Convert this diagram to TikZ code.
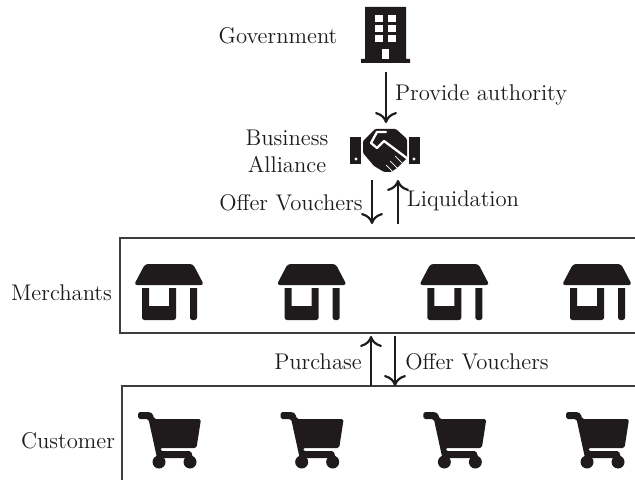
\documentclass[tikz,border=0pt]{standalone}
\usetikzlibrary{arrows.meta}
\definecolor{ink}{HTML}{1F1B1C}
\tikzset{
  x=0.5pt,y=-0.5pt,
  lab/.style={inner sep=0pt,font=\fontsize{11.35}{13.5}\selectfont,text=ink},
  flow/.style={draw=ink,line width=1.1pt,-{To[length=5.5pt,width=11pt,line width=1.1pt]}},
  panel/.style={draw=ink!85,line width=0.6pt},
  solid ink/.style={fill=ink,draw=none},
  knock/.style={fill=white,draw=none},
  shopicon/.pic={
    \fill[solid ink,rounded corners=1.5pt] (11,0) -- (59,0) -- (70,21) -- (0,21) -- cycle;
    \fill[solid ink] (8,24) -- (15,24) -- (15,42) -- (35,42) -- (35,24) -- (42,24) [rounded corners=1.2pt] -- (42,56) -- (8,56) [sharp corners] -- cycle;
    \fill[solid ink] (56,24) -- (63,24) [rounded corners=1.2pt] -- (63,56) -- (56,56) [sharp corners] -- cycle;
  },
  carticon/.pic={
    \fill[solid ink,rounded corners=0.9pt] (0,0) -- (12,0) -- (15,2) -- (16,7) -- (63,7) -- (58.5,36) -- (22,36) -- (22.5,39) -- (53,39) -- (55,46) -- (19,46) -- (10.5,7) -- (0,7) -- cycle;
    \fill[solid ink] (21,50) circle[radius=6.5];
    \fill[solid ink] (52,50) circle[radius=6.5];
  },
}
\begin{document}
\begin{tikzpicture}
\useasboundingbox (0,0) rectangle (635,480);
% Government
\fill[solid ink] (365,7) -- (406,7) -- (406,59) -- (410,59) -- (410,63) -- (361,63) -- (361,59) -- (365,59) -- cycle;
\foreach \wy in {15,25,35}{
  \fill[knock] (375,\wy) rectangle +(8,7);
  \fill[knock] (388,\wy) rectangle +(8,7);
}
\fill[knock] (382,49) rectangle (389,59);
\node[lab] (gov) at (278,36) {Government};
% Handshake
\fill[solid ink] (350,137) rectangle (361,164);
\fill[solid ink] (409,137) rectangle (420,164);
\fill[knock] (356,159) circle[radius=1.7];
\fill[knock] (414,159) circle[radius=1.7];
\fill[solid ink,rounded corners=0.6pt] (375,129) -- (396,129) -- (407,139) -- (407,158) -- (397,168) -- (391,172) -- (384,172) -- (374,166) -- (363,153) -- (363,141) -- cycle;
\draw[white,line width=1.15pt,line join=round,line cap=round] (386,132) -- (377,132) -- (371,143) -- (377,148) -- (384,141) -- (408,159);
\draw[white,line width=0.35pt] (392,171) -- (386,165) (397,168) -- (390,161) (402,163) -- (395,156);
\node[lab,align=center] (alliance) at (287,151) {Business\\Alliance};
% Panels
\draw[panel] (635,238) -- (120,238) -- (120,333) -- (635,333);
\draw[panel] (635,386) -- (122,386) -- (122,480);
\foreach \k in {0,1,2,3}{
  \pic at ({134+142.67*\k},264) {shopicon};
  \pic at ({138+142.67*\k},412) {carticon};
}
\node[lab] (merch) at (61.5,293) {Merchants};
\node[lab] (cust) at (68,441) {Customer};
% Connector ends
\coordinate (govout) at (386,72);
\coordinate (allin) at (386,123);
\coordinate (allout) at (372,180);
\coordinate (merin) at (372,224);
\coordinate (merout) at (398,224);
\coordinate (allret) at (398,180);
\coordinate (cusa) at (371,386);
\coordinate (mera) at (371,336);
\coordinate (merb) at (395,336);
\coordinate (cusb) at (395,386);
\draw[flow] (govout) -- (allin);
\draw[flow] (allout) -- (merin);
\draw[flow] (merout) -- (allret);
\draw[flow] (cusa) -- (mera);
\draw[flow] (merb) -- (cusb);
% Labels
\node[lab] (provide) at (481,95) {Provide authority};
\node[lab] (offera) at (291,203) {Offer Vouchers};
\node[lab] (liq) at (463,201) {Liquidation};
\node[lab] (purch) at (318,362) {Purchase};
\node[lab] (offerb) at (477,362) {Offer Vouchers};
\end{tikzpicture}
\end{document}
